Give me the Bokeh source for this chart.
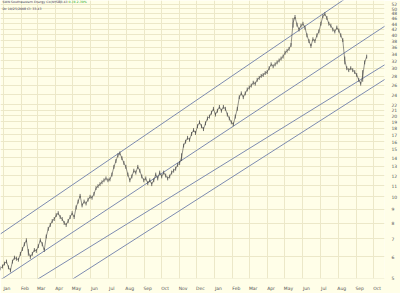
import numpy as np
import pandas as pd
from bokeh.plotting import figure
from bokeh.models import FixedTicker, DatetimeTickFormatter, PrintfTickFormatter, Label, Range1d
from bokeh.embed import file_html
from bokeh.resources import INLINE

# ---- data ----
first_bar = "2006-12-26 20:00"
last_bar = "2008-09-19 00:00"
high = [5.52, 5.61, 5.75, 5.85, 5.57, 5.43, 5.85, 6.05, 6.00, 5.94,
        6.25, 6.51, 6.79, 7.02, 6.40, 6.10, 6.25, 6.46, 6.41, 6.67,
        7.02, 6.79, 6.46, 7.25, 7.74, 8.01, 8.28, 8.42, 8.70, 8.85,
        8.56, 8.42, 8.14, 8.01, 8.28, 8.56, 8.85, 8.56, 9.30, 9.77,
        10.26, 9.45, 9.77, 9.61, 9.93, 10.18, 10.10, 10.43, 10.97, 11.15,
        11.34, 11.52, 11.72, 11.91, 11.72, 11.81, 12.31, 13.15, 13.81, 14.52,
        14.76, 14.16, 13.59, 13.15, 12.31, 11.72, 12.11, 12.72, 12.52, 13.15,
        12.72, 12.11, 11.72, 11.91, 11.43, 11.72, 11.34, 11.72, 12.31, 11.91,
        12.52, 12.11, 12.52, 12.21, 11.91, 12.11, 12.52, 12.72, 12.94, 13.37,
        13.59, 14.52, 15.77, 16.30, 16.85, 16.58, 17.42, 18.00, 17.56, 18.61,
        19.23, 18.61, 18.15, 19.07, 19.88, 20.21, 20.89, 21.59, 20.55, 21.24,
        21.95, 21.24, 21.95, 21.59, 20.55, 19.88, 19.23, 18.92, 20.21, 21.59,
        23.84, 24.64, 23.84, 24.64, 25.47, 25.90, 26.33, 26.99, 26.77, 27.67,
        28.13, 28.60, 28.83, 29.31, 29.55, 30.55, 31.58, 31.06, 31.58, 32.11,
        32.64, 33.19, 33.74, 34.87, 35.45, 36.04, 37.26, 46.18, 47.34, 44.32,
        42.52, 43.95, 44.68, 43.23, 40.46, 38.50, 36.95, 39.14, 38.50, 40.46,
        41.82, 44.68, 47.73, 48.53, 46.95, 44.68, 43.95, 42.52, 41.82, 43.23,
        42.17, 40.46, 38.82, 33.19, 30.55, 30.05, 30.55, 30.05, 29.55, 28.83,
        27.67, 26.77, 29.55, 32.11, 33.74]
low = [5.34, 5.43, 5.57, 5.66, 5.39, 5.25, 5.66, 5.85, 5.80, 5.75,
       6.05, 6.30, 6.56, 6.79, 6.05, 5.89, 6.05, 6.25, 6.20, 6.46,
       6.79, 6.56, 6.25, 7.02, 7.49, 7.74, 8.01, 8.14, 8.42, 8.56,
       8.28, 8.14, 7.87, 7.74, 8.01, 8.28, 8.56, 8.28, 8.99, 9.45,
       9.93, 9.15, 9.45, 9.30, 9.61, 9.85, 9.77, 10.10, 10.61, 10.79,
       10.97, 11.15, 11.34, 11.52, 11.34, 11.43, 11.91, 12.72, 13.37, 14.04,
       14.28, 13.70, 13.15, 12.72, 11.91, 11.34, 11.72, 12.31, 12.11, 12.72,
       12.31, 11.72, 11.34, 11.52, 11.06, 11.34, 10.97, 11.34, 11.91, 11.52,
       12.11, 11.72, 12.11, 11.81, 11.52, 11.72, 12.11, 12.31, 12.52, 12.94,
       13.15, 13.59, 15.26, 15.77, 16.30, 16.03, 16.85, 17.42, 16.99, 18.00,
       18.61, 18.00, 17.56, 18.45, 19.23, 19.55, 20.21, 20.89, 19.88, 20.55,
       21.24, 20.55, 21.24, 20.89, 19.88, 19.23, 18.61, 18.30, 19.55, 20.89,
       23.07, 23.84, 23.07, 23.84, 24.64, 25.05, 25.47, 26.11, 25.90, 26.77,
       27.22, 27.67, 27.90, 28.36, 28.60, 29.55, 30.55, 30.05, 30.55, 31.06,
       31.58, 32.11, 32.64, 33.74, 34.30, 34.87, 36.04, 42.50, 45.80, 42.87,
       41.14, 42.52, 43.23, 41.82, 39.14, 37.26, 35.74, 37.88, 37.26, 39.14,
       40.46, 43.23, 46.18, 46.95, 45.42, 43.23, 42.52, 41.14, 40.46, 41.82,
       40.80, 39.14, 37.57, 31.06, 29.55, 29.07, 29.55, 29.07, 28.60, 27.90,
       26.77, 25.90, 26.77, 31.06, 32.64]

# trend lines: (start date, end date) and (start price, end price)
trend_dates = ["2006-12-26 20:00", "2008-10-27 00:00"]
trend_top = [7.29, 70.1]
trend_mid = [4.92, 44.0]
trend_low1 = [4.07, 31.6]
trend_low2 = [3.34, 27.9]

month_starts = pd.date_range("2007-01-01", "2008-10-01", freq="MS")
price_ticks = list(range(5, 23)) + list(range(24, 53, 2))

title_name = "SWN Southwestern Energy Co(NYSE)"
title_last = "33.43"
title_change = "0.78  2.39%"
subtitle = "Dc 10/25/2008  Cl: 33.43"

# ---- figure ----
bg = "#fffee8"
gridc = "#ece8c8"
x_start = pd.Timestamp("2006-12-26 20:00")
x_end = pd.Timestamp("2008-10-19 19:00")

p = figure(width=400, height=293, x_axis_type="datetime", y_axis_type="log",
           y_axis_location="right", output_backend="svg", toolbar_location=None,
           x_range=Range1d(x_start, x_end), y_range=Range1d(4.98, 53.6),
           min_border_left=0, min_border_top=0, min_border_right=14, min_border_bottom=7)
p.background_fill_color = bg
p.border_fill_color = bg
p.outline_line_color = None

dates = pd.date_range(first_bar, last_bar, periods=len(high))
hi = np.array(high)
lo = np.array(low)
mid = np.sqrt(hi * lo)

# trend lines
td = pd.to_datetime(trend_dates)
for tl in (trend_top, trend_mid, trend_low1, trend_low2):
    p.line(td, tl, line_color="#7d8bb0", line_width=1)

# price bars
p.segment(x0=dates, y0=lo, x1=dates, y1=hi, line_color="#4a4a4a", line_width=0.8)
p.line(dates, mid, line_color="#4a4a4a", line_width=0.6)

# axes
label_ticks = [(d + pd.Timedelta(days=6)).value / 1e6 for d in month_starts]
grid_ticks = [d.value / 1e6 for d in month_starts]
p.xaxis.ticker = FixedTicker(ticks=label_ticks)
p.xaxis.formatter = DatetimeTickFormatter(days="%b", months="%b", years="%b", hours="%b",
                                          minutes="%b", seconds="%b", milliseconds="%b",
                                          minsec="%b", hourmin="%b")
p.xgrid.ticker = FixedTicker(ticks=grid_ticks)
p.yaxis.ticker = FixedTicker(ticks=price_ticks)
p.yaxis.formatter = PrintfTickFormatter(format="%d")
p.ygrid.ticker = FixedTicker(ticks=price_ticks)
for g in (p.xgrid, p.ygrid):
    g.grid_line_color = gridc
    g.grid_line_width = 1
for ax in (p.xaxis, p.yaxis):
    ax.axis_line_color = None
    ax.major_tick_line_color = None
    ax.minor_tick_line_color = None
    ax.major_label_text_font = "DejaVu Sans"
    ax.major_label_text_font_size = "4.5px"
    ax.major_label_text_color = "#555555"
    ax.major_label_standoff = 1

# header
hdr = dict(x_units="screen", y_units="screen", text_font="DejaVu Sans",
           text_font_size="3.2px", text_baseline="top")
p.add_layout(Label(x=2, y=279, text=title_name, text_color="#333355", **hdr))
p.add_layout(Label(x=58, y=279, text=title_last, text_color="#333355", **hdr))
p.add_layout(Label(x=68, y=279, text=title_change, text_color="#22aa22", **hdr))
p.add_layout(Label(x=2, y=272, text=subtitle, text_color="#333355", **hdr))

open("out.html", "w").write(file_html(p, INLINE))
